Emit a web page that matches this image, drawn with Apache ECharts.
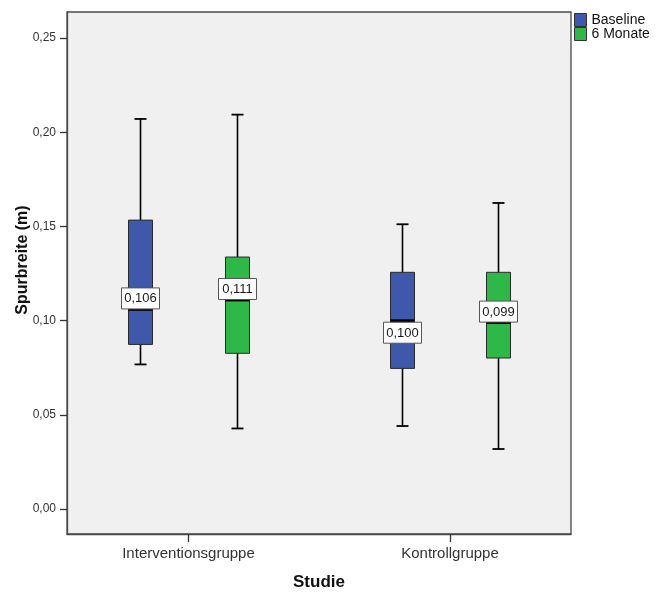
<!DOCTYPE html>
<html>
<head>
<meta charset="utf-8">
<script src="https://cdn.jsdelivr.net/npm/echarts@6/dist/echarts.min.js"></script>
<style>
  html, body { margin: 0; padding: 0; background: #ffffff; }
  #chart { width: 659px; height: 596px; }
</style>
</head>
<body>
<div id="chart"></div>
<script>
// ---- data ----
const categories = ['Interventionsgruppe', 'Kontrollgruppe'];
const seriesNames = ['Baseline', '6 Monate'];
const yTicks = [0, 0.05, 0.10, 0.15, 0.20, 0.25];
// [min, Q1, median, Q3, max] per category
const baseline = [
  [0.0768, 0.0874, 0.106, 0.1534, 0.2071],
  [0.0441, 0.0747, 0.100, 0.1257, 0.1512]
];
const sechsMonate = [
  [0.0428, 0.0827, 0.111, 0.1338, 0.2094],
  [0.0319, 0.0802, 0.099, 0.1257, 0.1625]
];

// ---- style ----
const FONT = '"Liberation Sans", Arial, sans-serif';
const colors = ['#3E58AC', '#2EB848'];
const pxOffsets = [-48.3, 48.3];
const BOX_W = 24, CAP_W = 12;
// where the median label sits relative to the median line, per series / category
const labelSide = [['up', 'down'], ['up', 'up']];

function fmt(v, d) { return v.toFixed(d).replace('.', ','); }

function makeRender(sIdx) {
  return function (params, api) {
    const xi = api.value(0);
    const mn = api.value(1), q1 = api.value(2), md = api.value(3), q3 = api.value(4), mx = api.value(5);
    const cx = Math.round(api.coord([xi, 0])[0] + pxOffsets[sIdx]) + 0.5;
    const y = v => api.coord([xi, v])[1];
    const yMin = y(mn), yQ1 = y(q1), yMd = y(md), yQ3 = y(q3), yMax = y(mx);
    const side = labelSide[sIdx][params.dataIndex];
    const LW = 38, LH = 21;
    const ly = side === 'up' ? yMd - LH - 0.5 : yMd + 1.5;
    return {
      type: 'group',
      children: [
        { type: 'line', shape: { x1: cx, y1: yMax, x2: cx, y2: yMin },
          style: { stroke: '#000', lineWidth: 1.6 } },
        { type: 'line', shape: { x1: cx - CAP_W / 2, y1: yMax, x2: cx + CAP_W / 2, y2: yMax },
          style: { stroke: '#000', lineWidth: 1.8 } },
        { type: 'line', shape: { x1: cx - CAP_W / 2, y1: yMin, x2: cx + CAP_W / 2, y2: yMin },
          style: { stroke: '#000', lineWidth: 1.8 } },
        { type: 'rect', shape: { x: cx - BOX_W / 2, y: yQ3, width: BOX_W, height: yQ1 - yQ3 },
          style: { fill: colors[sIdx], stroke: '#2a2a2a', lineWidth: 1 } },
        { type: 'line', shape: { x1: cx - BOX_W / 2, y1: yMd, x2: cx + BOX_W / 2, y2: yMd },
          style: { stroke: '#000', lineWidth: 2.8 } },
        { type: 'rect', shape: { x: cx - LW / 2, y: ly, width: LW, height: LH },
          style: { fill: '#ffffff', stroke: '#555', lineWidth: 1 } },
        { type: 'text', style: { x: cx, y: ly + LH / 2 + 0.5, text: fmt(md, 3), align: 'center',
          verticalAlign: 'middle', fill: '#1a1a1a', font: '13px ' + FONT } }
      ]
    };
  };
}

const chart = echarts.init(document.getElementById('chart'), null, { renderer: 'canvas' });

const option = {
  animation: false,
  backgroundColor: '#ffffff',
  textStyle: { fontFamily: FONT },
  grid: {
    left: 67, top: 12, right: 88, bottom: 60,
    show: true, backgroundColor: '#f0f0f0', borderColor: '#4a4a4a', borderWidth: 1.3
  },
  legend: {
    orient: 'vertical', left: 574, top: 13, padding: 0,
    itemWidth: 12, itemHeight: 13, itemGap: 0,
    icon: 'rect',
    itemStyle: { borderColor: '#333', borderWidth: 1 },
    textStyle: { fontSize: 14, lineHeight: 13, color: '#111', fontFamily: FONT },
    data: seriesNames
  },
  xAxis: {
    type: 'value',
    min: -0.4646, max: 1.4627,
    name: 'Studie', nameLocation: 'middle', nameGap: 40, nameMoveOverlap: false,
    nameTextStyle: { fontSize: 17, fontWeight: 'bold', color: '#111', fontFamily: FONT },
    axisLine: { show: true, onZero: false, lineStyle: { color: '#4a4a4a', width: 1.3 } },
    axisTick: { show: true, customValues: [0, 1], length: 8, lineStyle: { color: '#333', width: 1.3 } },
    axisLabel: {
      customValues: [0, 1], margin: 12, fontSize: 15, color: '#333', fontFamily: FONT,
      formatter: v => categories[Math.round(v)]
    },
    splitLine: { show: false }
  },
  yAxis: {
    type: 'value',
    min: -0.01322, max: 0.26388,
    name: 'Spurbreite (m)', nameLocation: 'middle', nameGap: 36, nameMoveOverlap: false,
    nameTextStyle: { fontSize: 16, fontWeight: 'bold', color: '#111', fontFamily: FONT, padding: [0, 0, 0, 26] },
    axisLine: { show: true, onZero: false, lineStyle: { color: '#4a4a4a', width: 1.3 } },
    axisTick: { show: true, customValues: yTicks, length: 7, lineStyle: { color: '#333', width: 1.3 } },
    axisLabel: {
      customValues: yTicks, margin: 11, fontSize: 12, color: '#333', fontFamily: FONT,
      formatter: v => fmt(v, 2)
    },
    splitLine: { show: false }
  },
  series: [baseline, sechsMonate].map((arr, s) => ({
    type: 'custom',
    name: seriesNames[s],
    itemStyle: { color: colors[s] },
    encode: { x: 0, y: [1, 2, 3, 4, 5] },
    data: arr.map((d, i) => [i].concat(d)),
    renderItem: makeRender(s),
    clip: false
  }))
};

chart.setOption(option);
</script>
</body>
</html>
